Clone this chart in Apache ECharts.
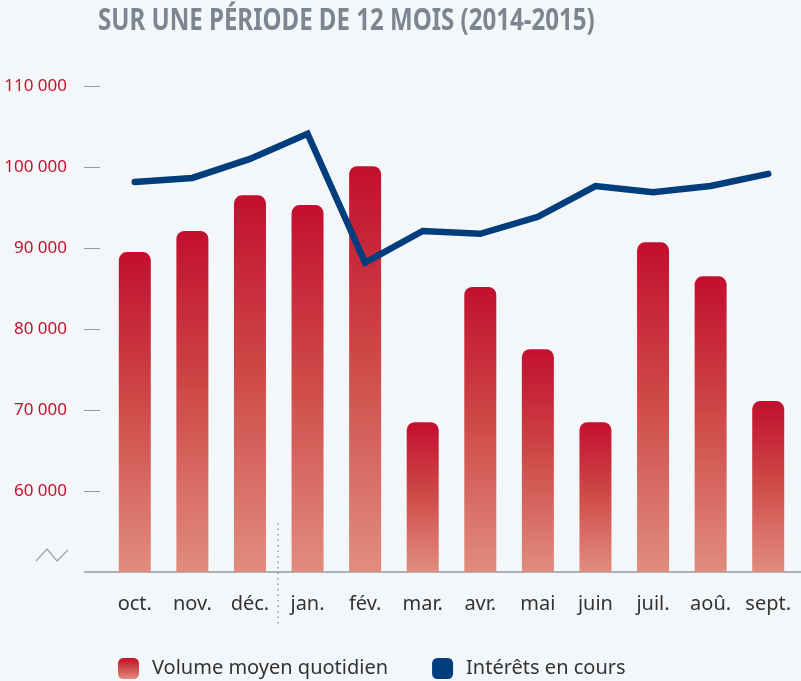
<!DOCTYPE html>
<html>
<head>
<meta charset="utf-8">
<script src="https://cdn.jsdelivr.net/npm/echarts@6/dist/echarts.min.js"></script>
<style>
  html, body { margin: 0; padding: 0; background: #f4f7f9; }
  #myChart { width: 801px; height: 681px; }
</style>
</head>
<body>
<div id="myChart"></div>
<script>
let months = ['oct.', 'nov.', 'déc.', 'jan.', 'fév.', 'mar.', 'avr.', 'mai', 'juin', 'juil.', 'aoû.', 'sept.']
let volumeValues = [89500, 92100, 96500, 95300, 100100, 68500, 85200, 77500, 68500, 90700, 86500, 71100]
let interetsValues = [98150, 98650, 101000, 104100, 88200, 92100, 91750, 93850, 97650, 96900, 97650, 99150]
let yTicks = [60000, 70000, 80000, 90000, 100000, 110000]
let titleText = 'SUR UNE PÉRIODE DE 12 MOIS (2014-2015)'

let labelFont = '"Noto Sans", sans-serif'

let myChart = echarts.init(document.getElementById('myChart'))

let barColor = {
    type: 'linear', x: 0, y: 0, x2: 0, y2: 1,
    colorStops: [
        { offset: 0, color: '#c20f2f' },
        { offset: 0.45, color: '#cd4646' },
        { offset: 1, color: '#e18d7e' }
    ]
}

let option = {
    backgroundColor: '#f4f7f9',
    animation: false,
    legend: {
        left: 118,
        top: 658,
        padding: 0,
        itemWidth: 21,
        itemHeight: 21,
        itemGap: 44,
        icon: 'roundRect',
        textStyle: { fontFamily: labelFont, fontSize: 20, color: '#333', padding: [0, 0, 0, 8] },
        data: ['Volume moyen quotidien', 'Intérêts en cours']
    },
    grid: { left: 106, right: 4, top: 86, bottom: 109 },
    xAxis: {
        type: 'category',
        data: months,
        axisLine: { show: false },
        axisTick: { show: false },
        axisLabel: { interval: 0, margin: 22, fontFamily: labelFont, fontSize: 20, color: '#333' }
    },
    yAxis: {
        type: 'value',
        min: 50000,
        max: 110000,
        interval: 10000,
        offset: 6,
        splitLine: { show: false },
        axisLine: { show: false },
        axisTick: {
            show: true, length: 16,
            customValues: yTicks,
            lineStyle: { color: '#9a9a9a', width: 1 }
        },
        axisLabel: {
            margin: 33,
            customValues: yTicks,
            fontFamily: labelFont,
            fontSize: 17,
            color: '#c8102e',
            formatter: function (v) {
                return String(v).replace(/\B(?=(\d{3})+(?!\d))/g, ' ')
            }
        }
    },
    series: [
        {
            name: 'Volume moyen quotidien',
            type: 'bar',
            barWidth: 32,
            itemStyle: { color: barColor, borderRadius: [8, 8, 0, 0] },
            data: volumeValues
        },
        {
            name: 'Intérêts en cours',
            type: 'line',
            symbol: 'none',
            itemStyle: { color: '#003d7d' },
            lineStyle: { width: 6.5, color: '#003d7d', cap: 'round', join: 'miter' },
            data: interetsValues
        }
    ],
    graphic: [
        // title, squeezed to look like the condensed original
        {
            type: 'text', left: 98, top: 6, scaleX: 0.776,
            style: {
                text: titleText,
                font: 'bold 31px "Noto Sans", sans-serif',
                fill: '#7b8691'
            }
        },
        // baseline
        { type: 'line', shape: { x1: 84, y1: 572, x2: 801, y2: 572 }, style: { stroke: '#999', lineWidth: 1.5 } },
        // axis break
        { type: 'polyline', shape: { points: [[36, 561], [47, 549], [57, 561], [68, 550]] }, style: { stroke: '#a0a0a0', lineWidth: 1.2, fill: null } },
        // year separator
        { type: 'line', shape: { x1: 278, y1: 523, x2: 278, y2: 625 }, style: { stroke: '#999', lineWidth: 1.5, lineDash: [1.5, 4] } }
    ]
}

myChart.setOption(option, true)
</script>
</body>
</html>
